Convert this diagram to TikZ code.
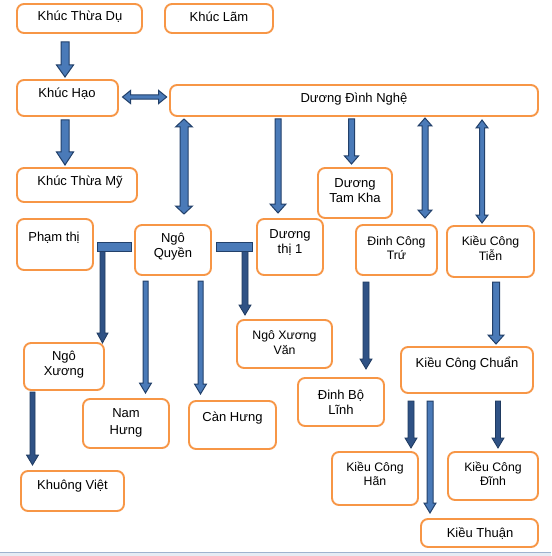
\documentclass[tikz,border=0pt]{standalone}
\usepackage{fontspec}
\setmainfont{Liberation Sans}
\usetikzlibrary{calc}
\definecolor{orng}{HTML}{F79646}
\definecolor{ablue}{HTML}{4A7AB8}
\definecolor{aline}{HTML}{22406A}
\definecolor{dblue}{HTML}{2F5285}
\definecolor{dline}{HTML}{1F3A60}
\definecolor{stripbg}{HTML}{E6ECF4}
\definecolor{stripln}{HTML}{9FB3CF}
\tikzset{
 box/.style={draw=orng, line width=1.9pt, rounded corners=7pt, fill=white, inner sep=0pt, outer sep=0pt},
 lbl/.style={font=\fontsize{13}{15}\selectfont, align=center, inner sep=0pt},
 sml/.style={font=\fontsize{12.3}{14.5}\selectfont},
 blk/.style={fill=ablue, draw=aline, line width=1pt, line join=miter},
 thn/.style={fill=dblue, draw=dline, line width=0.8pt, line join=miter},
}
% #1 style, #2 start, #3 tip, #4 shaft half, #5 head half, #6 head length
\newcommand\dnarrow[6]{%
 \path[#1] let \p1=#2, \p2=#3 in (\x1-#4,\y1) -- (\x1+#4,\y1) -- (\x1+#4,\y2+#6) -- (\x1+#5,\y2+#6) -- (\x1,\y2) -- (\x1-#5,\y2+#6) -- (\x1-#4,\y2+#6) -- cycle;}
\newcommand\vdarrow[6]{%
 \path[#1] let \p1=#2, \p2=#3 in (\x1,\y1) -- (\x1+#5,\y1-#6) -- (\x1+#4,\y1-#6) -- (\x1+#4,\y2+#6) -- (\x1+#5,\y2+#6) -- (\x1,\y2) -- (\x1-#5,\y2+#6) -- (\x1-#4,\y2+#6) -- (\x1-#4,\y1-#6) -- (\x1-#5,\y1-#6) -- cycle;}
\newcommand\hdarrow[6]{%
 \path[#1] let \p1=#2, \p2=#3 in (\x1,\y1) -- (\x1+#6,\y1+#5) -- (\x1+#6,\y1+#4) -- (\x2-#6,\y1+#4) -- (\x2-#6,\y1+#5) -- (\x2,\y1) -- (\x2-#6,\y1-#5) -- (\x2-#6,\y1-#4) -- (\x1+#6,\y1-#4) -- (\x1+#6,\y1-#5) -- cycle;}
\begin{document}
\begin{tikzpicture}[x=1pt,y=-1pt]
\useasboundingbox (0,0) rectangle (551,556);
\fill[white] (0,0) rectangle (551,556);
\fill[stripbg] (0,552.5) rectangle (551,556);
\draw[stripln, line width=1.2pt] (0,552.5) -- (551,552.5);

% boxes
\node[box, minimum width=125pt, minimum height=29pt] (ktd) at (79.5,18.5) {};
\node[box, minimum width=108pt, minimum height=29pt] (kl) at (219,18.5) {};
\node[box, minimum width=101pt, minimum height=36pt] (kh) at (67.5,98) {};
\node[box, minimum width=368pt, minimum height=31pt] (dn) at (354,100.5) {};
\node[box, minimum width=120pt, minimum height=34pt] (ktm) at (77,185) {};
\node[box, minimum width=76pt, minimum height=51pt] (pt) at (55,244.5) {};
\node[box, minimum width=76pt, minimum height=50pt] (nq) at (173,250) {};
\node[box, minimum width=66pt, minimum height=56pt] (dt1) at (290,247) {};
\node[box, minimum width=74pt, minimum height=50pt] (dtk) at (355,193) {};
\node[box, minimum width=81pt, minimum height=50pt] (dct) at (396.5,250) {};
\node[box, minimum width=87pt, minimum height=51pt] (kct) at (490.5,251.5) {};
\node[box, minimum width=95pt, minimum height=48pt] (nxv) at (284.5,344) {};
\node[box, minimum width=86pt, minimum height=48pt] (dbl) at (341,402) {};
\node[box, minimum width=132pt, minimum height=46pt] (kcc) at (467,370) {};
\node[box, minimum width=86pt, minimum height=53pt] (kch) at (375,478.5) {};
\node[box, minimum width=90pt, minimum height=48pt] (kcd) at (493,476) {};
\node[box, minimum width=117pt, minimum height=28pt] (kt) at (479.5,533) {};
\node[box, minimum width=80pt, minimum height=47pt] (nx) at (64,366.5) {};
\node[box, minimum width=86pt, minimum height=49pt] (nh) at (126,423.5) {};
\node[box, minimum width=87pt, minimum height=48pt] (ch) at (232.5,425) {};
\node[box, minimum width=103pt, minimum height=40pt] (kv) at (72.5,491) {};

% labels
\node[lbl] (ktd-t) at (80,17) {Khúc Thừa Dụ};
\node[lbl] (kl-t) at (219,17) {Khúc Lãm};
\node[lbl] (kh-t) at (67,94) {Khúc Hạo};
\node[lbl] (dn-t) at (354,99) {Dương Đình Nghệ};
\node[lbl] (ktm-t) at (80,182) {Khúc Thừa Mỹ};
\node[lbl] (pt-t) at (54,238) {Phạm thị};
\node[lbl] (nq-t) at (173,247) {Ngô\\Quyền};
\node[lbl] (dt1-t) at (290,242.5) {Dương\\thị 1};
\node[lbl] (dtk-t) at (355,190.5) {Dương\\Tam Kha};
\node[lbl,sml] (dct-t) at (396.5,248) {Đinh Công\\Trứ};
\node[lbl,sml] (kct-t) at (490.5,248.5) {Kiều Công\\Tiễn};
\node[lbl,sml] (nxv-t) at (284.5,342.5) {Ngô Xương\\Văn};
\node[lbl] (kcc-t) at (467,364) {Kiều Công Chuẩn};
\node[lbl] (dbl-t) at (341,402) {Đinh Bộ\\Lĩnh};
\node[lbl,sml] (kch-t) at (375,474) {Kiều Công\\Hãn};
\node[lbl,sml] (kcd-t) at (493,474) {Kiều Công\\Đĩnh};
\node[lbl] (kt-t) at (480,533) {Kiều Thuận};
\node[lbl] (nx-t) at (64,365) {Ngô\\Xương};
\node[lbl,font=\fontsize{13}{17}\selectfont] (nh-t) at (126,423) {Nam\\Hưng};
\node[lbl] (ch-t) at (232.5,418) {Càn Hưng};
\node[lbl] (kv-t) at (72.5,486) {Khuông Việt};

% block arrows
\dnarrow{blk}{($(ktd.south)+(-14.5,9)$)}{($(kh.north)+(-2.5,-3)$)}{4pt}{8.5pt}{12pt}
\dnarrow{blk}{($(kh.south)+(-2.5,4)$)}{($(ktm.north)+(-12,-3)$)}{4pt}{8.5pt}{13pt}
\hdarrow{blk}{($(kh.east)+(4.5,-1)$)}{($(dn.west)+(-3.3,0)$)}{2.2pt}{6.5pt}{8pt}
\vdarrow{blk}{($(dn.south -| nq.north)+(11,3)$)}{($(nq.north)+(11,-11)$)}{4pt}{8.5pt}{8pt}
\dnarrow{blk}{($(dn.south -| dt1.north)+(-12,3)$)}{($(dt1.north)+(-12,-6)$)}{3pt}{8pt}{9pt}
\dnarrow{blk}{($(dn.south -| dtk.north)+(-3.5,3)$)}{($(dtk.north)+(-3.5,-4)$)}{3pt}{7pt}{8pt}
\vdarrow{blk}{($(dn.south -| dct.north)+(28.5,2)$)}{($(dct.north)+(28.5,-7)$)}{3pt}{7pt}{8pt}
\vdarrow{blk}{($(dn.south -| kct.north)+(-8.5,4)$)}{($(kct.north)+(-8.5,-3)$)}{2.5pt}{6pt}{8pt}
\dnarrow{blk}{($(kct.south)+(5.5,5)$)}{($(kcc.north)+(29,-3)$)}{3.5pt}{8pt}{9pt}

% T connectors from Ngo Quyen
\dnarrow{thn}{($(nq.west)+(-32.5,1)$)}{($(nx.north)+(38.5,0)$)}{2.5pt}{5.5pt}{10pt}
\dnarrow{thn}{($(nq.east)+(34,1)$)}{($(nxv.north)+(-39.5,-5)$)}{3pt}{6pt}{10pt}
\path[blk] ($(nq.west)+(-38,-8)$) rectangle ($(nq.west)+(-4,1)$);
\path[blk] ($(nq.east)+(5,-8)$) rectangle ($(nq.east)+(41,1)$);

% thin arrows
\dnarrow{blk}{($(nq.south)+(-27.5,6)$)}{($(nh.north)+(19.5,-6)$)}{2.5pt}{6pt}{10pt}
\dnarrow{blk}{($(nq.south)+(27.5,6)$)}{($(ch.north)+(-32,-7)$)}{2.5pt}{6pt}{10pt}
\dnarrow{thn}{($(nx.south)+(-31.5,2)$)}{($(kv.north)+(-40,-6)$)}{2.5pt}{6pt}{10pt}
\dnarrow{thn}{($(dct.south)+(-30.5,7)$)}{($(dbl.north)+(25,-9)$)}{3pt}{6pt}{10pt}
\dnarrow{thn}{($(kcc.south)+(-56,8)$)}{($(kch.north)+(36,-4)$)}{3pt}{6pt}{10pt}
\dnarrow{blk}{($(kcc.south)+(-37,8)$)}{($(kt.north)+(-49.5,-6)$)}{3pt}{6pt}{10pt}
\dnarrow{thn}{($(kcc.south)+(31,8)$)}{($(kcd.north)+(5,-4)$)}{2.5pt}{6pt}{10pt}
\end{tikzpicture}
\end{document}
